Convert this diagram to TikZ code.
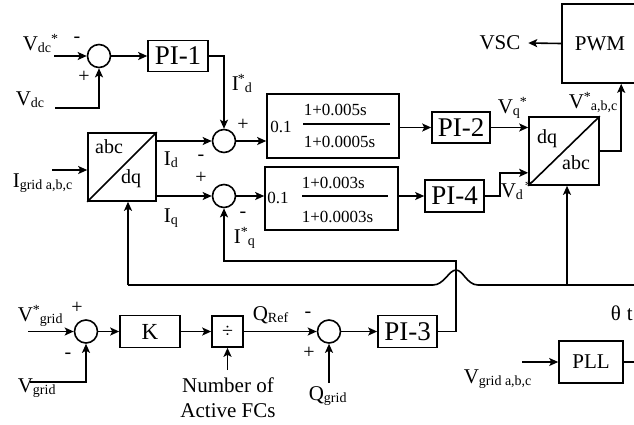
\documentclass[tikz,border=0pt]{standalone}
\usepackage{fontspec}
\setmainfont{Liberation Serif}
\usetikzlibrary{arrows.meta,calc}
\newcommand\lsub[1]{\raisebox{-0.3ex}{\fontsize{14}{14}\selectfont #1}}
\newcommand\lsup[1]{\raisebox{0.7ex}{\fontsize{14}{14}\selectfont #1}}
\begin{document}
\begin{tikzpicture}[x=1pt,y=-1pt,line width=1.6pt,
  arr/.style={-{Stealth[length=9pt,width=8pt,inset=2pt]}},
  blk/.style={draw, inner sep=0pt, font=\fontsize{27}{27}\selectfont},
  box/.style={draw, inner sep=0pt},
  sumj/.style={draw, circle, minimum size=23pt, inner sep=0pt},
  lbl/.style={inner sep=0pt, font=\fontsize{21}{21}\selectfont},
  inl/.style={inner sep=0pt, font=\fontsize{20}{20}\selectfont},
  sgn/.style={inner sep=0pt, font=\fontsize{20}{20}\selectfont},
  frc/.style={inner sep=0pt, font=\fontsize{17}{17}\selectfont},
]
\useasboundingbox (0,0) rectangle (634,424);
\clip (0,0) rectangle (634,424);

% ---- blocks ----
\node[sumj] (s1) at (99,56) {};
\node[blk, minimum width=60pt, minimum height=31pt] (pi1) at (178,56) {PI-1};
\node[sumj] (s2) at (224,141) {};
\node[sumj] (s3) at (224,196) {};
\node[box, minimum width=132pt, minimum height=64pt] (f1) at (333,126) {};
\node[box, minimum width=133pt, minimum height=63pt] (f2) at (331.5,198.5) {};
\node[box, minimum width=68pt, minimum height=68pt] (adq) at (122,167) {};
\draw (adq.south west) -- (adq.north east);
\node[blk, minimum width=58pt, minimum height=31pt] (pi2) at (461,127.5) {PI-2};
\node[box, minimum width=70pt, minimum height=68pt] (dqa) at (564,151) {};
\draw (dqa.south west) -- (dqa.north east);
\node[blk, minimum width=59pt, minimum height=32pt] (pi4) at (454.5,196) {PI-4};
\node[box, minimum width=76pt, minimum height=79pt, font=\fontsize{21}{21}\selectfont] (pwm) at (600,43.5) {PWM\hspace{6pt}};
\node[box, minimum width=64pt, minimum height=42pt, font=\fontsize{21}{21}\selectfont] (pll) at (591,362) {PLL};
\node[sumj] (s4) at (86,331.5) {};
\node[blk, minimum width=60pt, minimum height=32pt, font=\fontsize{23}{23}\selectfont] (k) at (150,331.5) {K};
\node[box, minimum width=31pt, minimum height=31pt, font=\fontsize{20}{20}\selectfont] (dv) at (227.5,331.5) {÷};
\node[sumj] (s5) at (329,331.5) {};
\node[blk, minimum width=59pt, minimum height=32pt] (pi3) at (407.5,331.5) {PI-3};

% ---- text inside blocks ----
\node[inl] at (109,147) {abc};
\node[inl] at (131,179) {dq};
\node[inl] at (547,139) {dq};
\node[inl] at (576,163) {abc};
\node[frc] at (281,127) {0.1};
\node[frc, anchor=base west] at (303,115) {1+0.005s};
\draw[line width=1.2pt] (303,124) -- (390,124);
\node[frc, anchor=base west] at (303,147) {1+0.0005s};
\node[frc] at (278,198) {0.1};
\node[frc, anchor=base west] at (301,188) {1+0.003s};
\draw[line width=1.2pt] (302,196) -- (388,196);
\node[frc, anchor=base west] at (301,222) {1+0.0003s};

% ---- labels ----
\node[lbl, anchor=base west] at (22,50) {V\lsub{dc}\lsup{*}};
\node[sgn] at (77,40) {-};
\node[sgn] at (84,77) {+};
\node[lbl, anchor=base west] at (15,105) {V\lsub{dc}};
\node[lbl, anchor=base west] at (231,90) {I\hspace{-1pt}\lsup{*}\lsub{d}};
\node[sgn] at (243,125) {+};
\node[lbl, anchor=base west] at (12,187) {I\lsub{grid a,b,c}};
\node[lbl, anchor=base west] at (163,165) {I\lsub{d}};
\node[sgn] at (201,158) {-};
\node[sgn] at (201,178) {+};
\node[lbl, anchor=base west] at (163,222) {I\lsub{q}};
\node[sgn] at (243,215) {-};
\node[lbl, anchor=base west] at (233,243) {I\lsup{*}\lsub{q}};
\node[lbl, anchor=base west] at (497,113) {V\lsub{q}\lsup{*}};
\node[lbl, anchor=base west] at (568,108) {V\lsup{*}\lsub{a,b,c}};
\node[lbl, anchor=base west] at (500,197) {V\lsub{d}\hspace{2pt}\lsup{*}};
\node[lbl] (vsc) at (500,43) {VSC};
\node[lbl, anchor=base west] at (610,320) {θ\hspace{6pt}t};
\node[lbl, anchor=base west] at (17,321) {V\lsup{*}\lsub{grid}};
\node[sgn] at (77,308) {+};
\node[sgn] at (68,356) {-};
\node[lbl, anchor=base west] at (17,392) {V\lsub{grid}};
\node[lbl, align=center, font=\fontsize{21}{25}\selectfont, anchor=north] (naftxt) at (228,377) {Number of\\Active FCs};
\node[lbl, anchor=base west] at (252,320) {Q\lsub{Ref}};
\node[sgn] at (308,315) {-};
\node[sgn] at (309,353) {+};
\node[lbl, anchor=base west] at (308,400) {Q\lsub{grid}};
\node[lbl, anchor=base west] at (463,383) {V\lsub{grid a,b,c}};

% ---- free ends ----
\coordinate (vdcs) at (54,56);
\coordinate (vdc) at (55,108);
\coordinate (ig) at (52,170);
\coordinate (vgs) at (28,331.5);
\coordinate (vg) at (30,382);
\coordinate (naf) at (227.5,370);
\coordinate (qg) at (329,383);
\coordinate (vgabc) at (522,362);
\coordinate (th1) at (128,285);
\coordinate (th2) at (567,285);

% ---- connectors ----
\draw[arr] (vdcs) -- (s1.west);
\draw[arr] (vdc) -| (s1.south);
\draw[arr] (s1.east) -- (pi1.west);
\draw[arr] (pi1.east) -| (s2.north);
\draw[arr] (ig) -- (ig -| adq.west);
\draw[arr] (s2 -| adq.east) -- (s2.west);
\draw[arr] (s3 -| adq.east) -- (s3.west);
\draw[arr] (s2.east) -- (s2 -| f1.west);
\draw[arr] (s3.east) -- (s3 -| f2.west);
\draw[arr] (f1.east |- pi2.west) -- (pi2.west);
\draw[arr] (pi2.east) -- (pi2 -| dqa.west);
\draw[arr] (f2.east |- pi4.west) -- (pi4.west);
\draw[arr] (pi4.east) -- ++(15,0) |- ([yshift=13pt]dqa.south west);
\draw[arr] (dqa.east) -| ([xshift=60pt]pwm.south west);
\draw[arr] (pwm.west) -- ([xshift=7pt]vsc.east);
\draw[arr] (pi3.east) -| (456,261) -| (s3.south);
\draw (pll.east) -- (660,362) -- (660,285) -- (478,285)
  .. controls (467,285) and (463,270) .. (456,270)
  .. controls (449,270) and (444,285) .. (433,285) -- (th1);
\draw[arr] (th1) -- (th1 |- adq.south);
\draw[arr] (th2) -- (th2 |- dqa.south);
\draw[arr] (vgs) -- (s4.west);
\draw[arr] (vg) -| (s4.south);
\draw[arr] (s4.east) -- (k.west);
\draw[arr] (k.east) -- (dv.west);
\draw[arr] (naf) -- (dv.south);
\draw[arr] (dv.east) -- (s5.west);
\draw[arr] (qg) -- (s5.south);
\draw[arr] (s5.east) -- (pi3.west);
\draw[arr] (vgabc) -- (pll.west);
\end{tikzpicture}
\end{document}
